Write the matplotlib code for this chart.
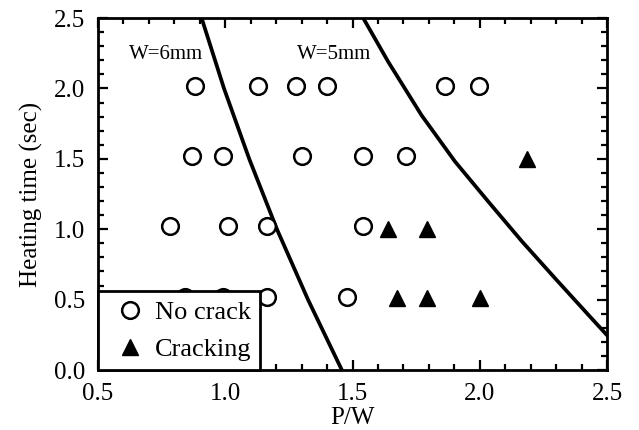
import numpy as np
import matplotlib
matplotlib.use('Agg')
import matplotlib.pyplot as plt
from matplotlib.ticker import MultipleLocator, FormatStrFormatter

plt.rcParams['font.family'] = ['Liberation Serif', 'DejaVu Serif']

# No crack (open circles)
nocrack_x = [0.881, 1.130, 1.278, 1.399, 1.863, 1.998,
             0.869, 0.992, 1.300, 1.542, 1.710,
             0.783, 1.012, 1.163, 1.542,
             0.842, 0.991, 1.163, 1.477]
nocrack_y = [2.02, 2.02, 2.02, 2.02, 2.02, 2.02,
             1.52, 1.52, 1.52, 1.52, 1.52,
             1.02, 1.02, 1.02, 1.02,
             0.52, 0.52, 0.52, 0.52]

# Cracking (filled triangles)
crack_x = [2.187, 1.641, 1.792, 1.674, 1.792, 2.001]
crack_y = [1.50, 1.00, 1.00, 0.51, 0.51, 0.51]

# boundary curves
w6_x = [0.907, 0.995, 1.094, 1.203, 1.325, 1.458]
w6_y = [2.50, 2.00, 1.50, 1.00, 0.50, 0.0]
w5_x = [1.542, 1.640, 1.771, 1.903, 2.034, 2.165, 2.296, 2.427, 2.499]
w5_y = [2.50, 2.19, 1.81, 1.48, 1.195, 0.915, 0.651, 0.391, 0.249]

fig = plt.figure(figsize=(6.39, 4.30), dpi=100)
ax = fig.add_axes([0.1534, 0.1395, 0.7966, 0.8185])

ax.plot(w6_x, w6_y, color='black', linewidth=2.7, zorder=2,
        solid_joinstyle='round')
ax.plot(w5_x, w5_y, color='black', linewidth=2.7, zorder=2,
        solid_joinstyle='round')

ax.plot(nocrack_x, nocrack_y, linestyle='none', marker='o', markersize=12,
        markerfacecolor='white', markeredgecolor='black', markeredgewidth=1.8,
        label='No crack', zorder=3)
ax.plot(crack_x, crack_y, linestyle='none', marker='^', markersize=12,
        color='black', label='Cracking', zorder=3)

ax.text(0.62, 2.24, 'W=6mm', fontsize=15, ha='left', va='center')
ax.text(1.28, 2.24, 'W=5mm', fontsize=15, ha='left', va='center')

ax.set_xlim(0.5, 2.5)
ax.set_ylim(0.0, 2.5)
ax.xaxis.set_major_locator(MultipleLocator(0.5))
ax.xaxis.set_minor_locator(MultipleLocator(0.1))
ax.yaxis.set_major_locator(MultipleLocator(0.5))
ax.yaxis.set_minor_locator(MultipleLocator(0.1))
ax.xaxis.set_major_formatter(FormatStrFormatter('%.1f'))
ax.yaxis.set_major_formatter(FormatStrFormatter('%.1f'))
ax.tick_params(which='both', direction='in', top=True, right=True,
               width=1.6, labelsize=18)
ax.tick_params(axis='x', which='major', pad=9)
ax.tick_params(axis='y', which='major', pad=9)
ax.tick_params(which='major', length=7)
ax.tick_params(which='minor', length=4)
for s in ax.spines.values():
    s.set_linewidth(2.0)

ax.set_xlabel('P/W', fontsize=18, labelpad=2)
ax.set_ylabel('Heating time (sec)', fontsize=18, labelpad=8)

leg = ax.legend(loc='lower left', borderaxespad=0, fontsize=19,
                handletextpad=0.1, handlelength=1.7, borderpad=0.35,
                labelspacing=0.5, fancybox=False, framealpha=1)
leg.get_frame().set_edgecolor('black')
leg.get_frame().set_linewidth(2.0)
leg.set_zorder(5)

fig.savefig('out.png', dpi=100)
